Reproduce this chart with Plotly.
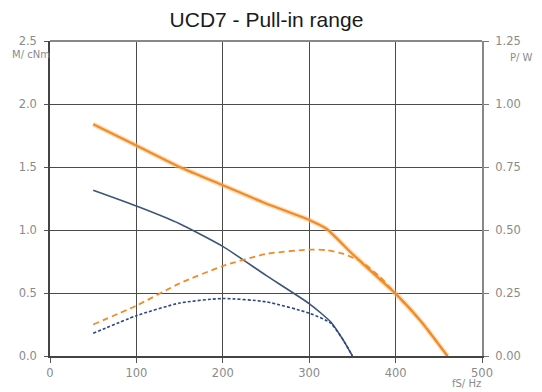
import plotly.graph_objects as go

# Frequency fS / Hz
freq_orange = [50, 100, 150, 200, 250, 300, 320, 350, 380, 400, 430, 460]
torque_orange = [1.84, 1.67, 1.50, 1.355, 1.21, 1.08, 1.01, 0.81, 0.62, 0.495, 0.27, 0.0]

freq_orange_p = [50, 100, 150, 200, 250, 300, 320, 340, 360, 380, 400, 430, 460]
power_orange = [0.125, 0.20, 0.288, 0.357, 0.405, 0.422, 0.42, 0.405, 0.375, 0.32, 0.2475, 0.135, 0.0]

freq_blue = [50, 100, 150, 200, 250, 300, 325, 340, 350]
torque_blue = [1.315, 1.19, 1.05, 0.87, 0.64, 0.416, 0.27, 0.12, 0.0]

freq_blue_p = [50, 100, 150, 200, 250, 300, 325, 340, 350]
power_blue = [0.09, 0.16, 0.21, 0.228, 0.215, 0.17, 0.13, 0.06, 0.0]

x_ticks = [0, 100, 200, 300, 400, 500]
m_ticks = [0.0, 0.5, 1.0, 1.5, 2.0, 2.5]
p_ticks = [0.0, 0.25, 0.5, 0.75, 1.0, 1.25]

orange = "rgb(240,140,40)"
blue = "rgb(60,85,120)"
blue_d = "rgb(45,70,140)"

fig = go.Figure()
fig.add_trace(go.Scatter(x=freq_orange, y=torque_orange, mode="lines",
                         line=dict(color="rgba(250,190,120,0.5)", width=5, shape="spline", smoothing=0.5),
                         showlegend=False, hoverinfo="skip"))
fig.add_trace(go.Scatter(x=freq_orange, y=torque_orange, mode="lines",
                         line=dict(color=orange, width=2.2, shape="spline", smoothing=0.5),
                         name="M orange", showlegend=False))
fig.add_trace(go.Scatter(x=freq_orange_p, y=power_orange, mode="lines", yaxis="y2",
                         line=dict(color=orange, width=1.8, dash="6px,4px", shape="spline", smoothing=0.6),
                         name="P orange", showlegend=False))
fig.add_trace(go.Scatter(x=freq_blue, y=torque_blue, mode="lines",
                         line=dict(color=blue, width=1.6, shape="spline", smoothing=0.5),
                         name="M blue", showlegend=False))
fig.add_trace(go.Scatter(x=freq_blue_p, y=power_blue, mode="lines", yaxis="y2",
                         line=dict(color=blue_d, width=1.6, dash="3px,2px", shape="spline", smoothing=0.6),
                         name="P blue", showlegend=False))

title_fam = "Liberation Sans, Arial, sans-serif"
lab_fam = "DejaVu Sans, sans-serif"
tickfont = dict(family=lab_fam, size=11.5, color="#8a8a8a")
labfont = dict(family=lab_fam, size=10, color="#8a8a8a")

fig.update_layout(
    width=534, height=384,
    margin=dict(l=42, r=60, t=33, b=36),
    paper_bgcolor="white", plot_bgcolor="white",
    title=dict(text="UCD7 - Pull-in range", x=0.484, xanchor="center", y=0.970, yanchor="middle",
               font=dict(family=title_fam, size=21, color="#1a1a1a")),
    xaxis=dict(range=[0, 500], tickvals=x_ticks, ticks="outside", ticklen=5, tickcolor="#555",
               showgrid=True, gridcolor="#4a4a4a", gridwidth=1.3, zeroline=False,
               showline=True, linecolor="#444", linewidth=1.5, mirror=False,
               tickfont=tickfont),
    yaxis=dict(range=[0, 2.5], tickvals=m_ticks, tickformat=".1f", ticks="outside", ticklen=4,
               tickcolor="#555", showgrid=True, gridcolor="#4a4a4a", gridwidth=1.3, zeroline=False,
               showline=True, linecolor="#444", linewidth=1.5, tickfont=tickfont,
               ticklabelstandoff=5),
    yaxis2=dict(range=[0, 1.25], tickvals=p_ticks, tickformat=".2f", overlaying="y", side="right",
                ticks="outside", ticklen=5, tickcolor="#777", showgrid=False, zeroline=False,
                showline=True, linecolor="#888", linewidth=2, tickfont=tickfont,
                ticklabelstandoff=4),
    shapes=[dict(type="line", xref="paper", yref="paper", x0=0, x1=1, y0=1, y1=1,
                 line=dict(color="#888", width=2))],
    annotations=[
        dict(text="M/ cNm", xref="paper", yref="paper", x=0.004, y=0.956, xanchor="right",
             yanchor="middle", showarrow=False, font=labfont),
        dict(text="P/ W", xref="paper", yref="paper", x=1.06, y=0.949, xanchor="left",
             yanchor="middle", showarrow=False, font=labfont),
        dict(text="fS/ Hz", xref="paper", yref="paper", x=0.963, y=-0.086, xanchor="center",
             yanchor="middle", showarrow=False, font=labfont),
    ],
)

fig.write_html("out.html")
